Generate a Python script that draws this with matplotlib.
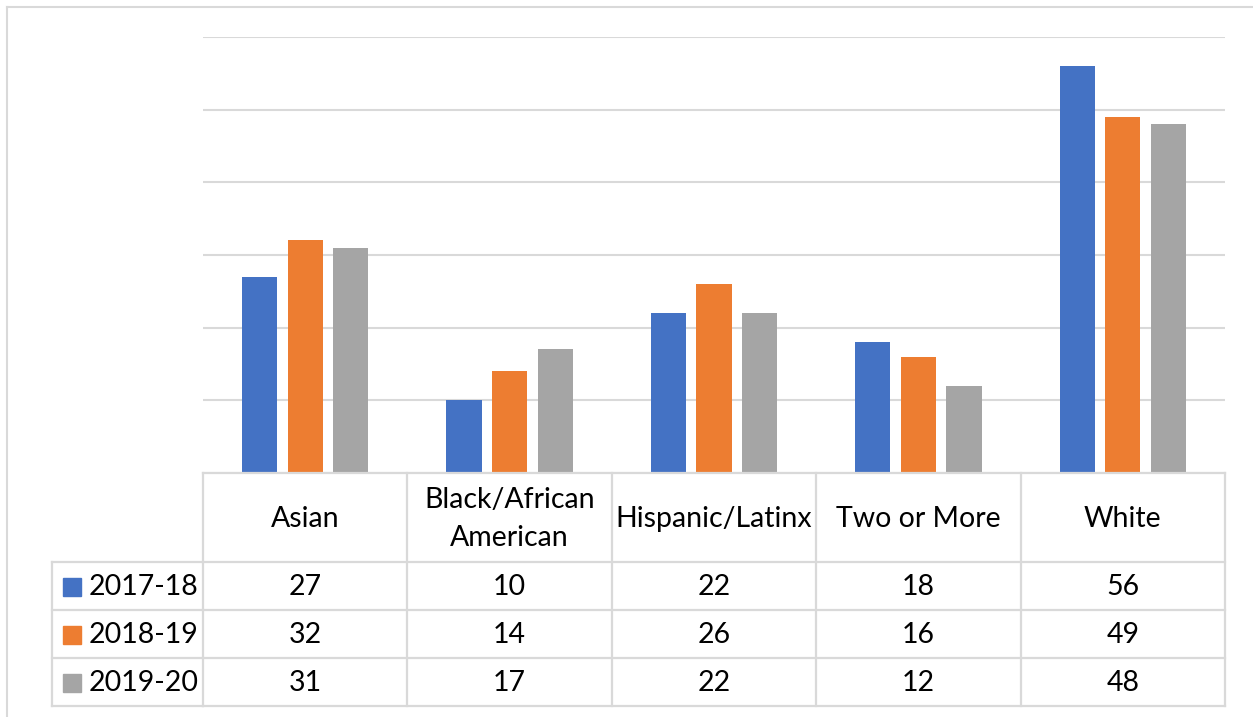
import numpy as np
import matplotlib.pyplot as plt
from matplotlib.lines import Line2D
from matplotlib.patches import Rectangle
from matplotlib.transforms import blended_transform_factory

plt.rcParams["font.family"] = ["Lato", "DejaVu Sans"]

groups = ["Asian", "Black/African\nAmerican", "Hispanic/Latinx", "Two or More", "White"]
years = ["2017-18", "2018-19", "2019-20"]
v_1718 = [27, 10, 22, 18, 56]
v_1819 = [32, 14, 26, 16, 49]
v_1920 = [31, 17, 22, 12, 48]
series = [v_1718, v_1819, v_1920]
colors = ["#4472C4", "#ED7D31", "#A5A5A5"]
grid_col = "#D9D9D9"

W, H = 1253, 717
fig = plt.figure(figsize=(W / 100, H / 100), dpi=100)

def fx(px):
    return px / W

def fy(py):
    return 1 - py / H

ax = fig.add_axes([fx(203), fy(473), fx(1225) - fx(203), fy(37) - fy(473)])
x = np.arange(len(groups))
bw = 0.172
step = 0.223
for i, vals in enumerate(series):
    ax.bar(x + (i - 1) * step, vals, width=bw, color=colors[i], zorder=3)

ax.set_xlim(-0.5, len(groups) - 0.5)
ax.set_ylim(0, 60)
ax.set_yticks(np.arange(0, 61, 10))
ax.grid(axis="y", color=grid_col, lw=1.5, zorder=0)
ax.tick_params(left=False, bottom=False, labelleft=False, labelbottom=False)
for s in ax.spines.values():
    s.set_visible(False)

# data table under the plot
tr = blended_transform_factory(ax.transData, fig.transFigure)
row_edges = [473, 562, 610, 658, 706]
col_edges = np.arange(len(groups) + 1) - 0.5
lw = 1.6
fs = 20.5

for xe in col_edges:
    fig.add_artist(Line2D([xe, xe], [fy(473), fy(706)], transform=tr, color=grid_col, lw=lw))
fig.add_artist(Line2D([col_edges[0], col_edges[-1]], [fy(473), fy(473)], transform=tr, color=grid_col, lw=lw))
for ye in row_edges[1:]:
    fig.add_artist(Line2D([fx(52), fx(203)], [fy(ye), fy(ye)], transform=fig.transFigure, color=grid_col, lw=lw))
    fig.add_artist(Line2D([col_edges[0], col_edges[-1]], [fy(ye), fy(ye)], transform=tr, color=grid_col, lw=lw))
fig.add_artist(Line2D([fx(52), fx(52)], [fy(562), fy(706)], transform=fig.transFigure, color=grid_col, lw=lw))

for j, g in enumerate(groups):
    fig.text(x[j], fy(519), g, transform=tr, ha="center", va="center", fontsize=fs, linespacing=1.55)

for i, vals in enumerate(series):
    yc = fy((row_edges[i + 1] + row_edges[i + 2]) / 2 + 1)
    fig.add_artist(Rectangle((fx(63), yc - 9 / H), 18 / W, 18 / H, transform=fig.transFigure, color=colors[i]))
    fig.text(fx(89), yc, years[i], ha="left", va="center", fontsize=fs)
    for j, v in enumerate(vals):
        fig.text(x[j], yc, str(v), transform=tr, ha="center", va="center", fontsize=fs)

# chart area outline
fig.add_artist(Line2D([fx(7), fx(1252)], [fy(7), fy(7)], transform=fig.transFigure, color=grid_col, lw=1.5))
fig.add_artist(Line2D([fx(7), fx(7)], [fy(7), fy(717)], transform=fig.transFigure, color=grid_col, lw=1.5))

fig.savefig("out.png", dpi=100)
